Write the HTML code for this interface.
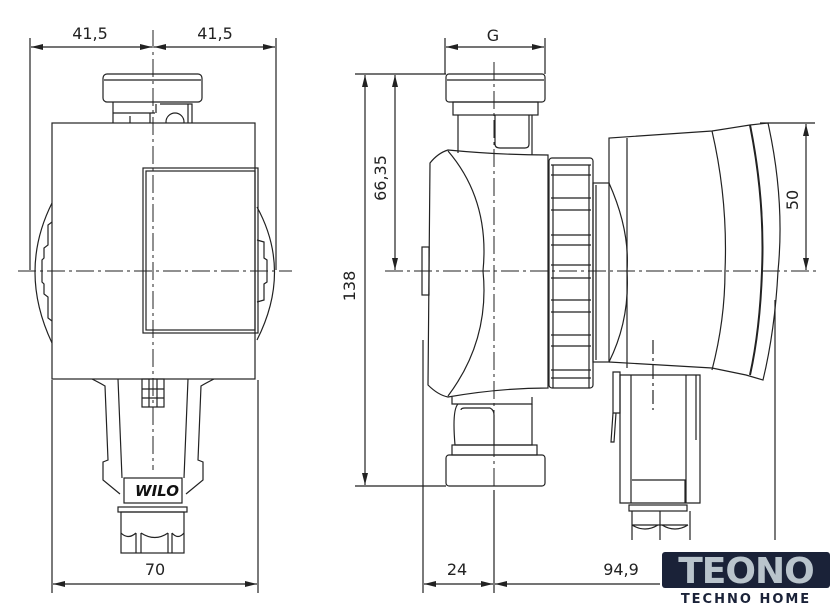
<!DOCTYPE html>
<html><head><style>
html,body{margin:0;padding:0;background:#fff;width:840px;height:615px;overflow:hidden}
svg{display:block}
text{font-family:"DejaVu Sans","Liberation Sans",sans-serif;font-size:16px;fill:#222}
</style></head><body>
<svg width="840" height="615" viewBox="0 0 840 615" xmlns="http://www.w3.org/2000/svg">
<defs>
<marker id="a" viewBox="0 0 12 6" refX="12" refY="3" markerWidth="12" markerHeight="6" orient="auto-start-reverse" markerUnits="userSpaceOnUse"><path d="M0,0L12,3L0,6z" fill="#222"/></marker>
</defs>
<g stroke="#222" stroke-width="1.2" fill="none">
<!-- LEFT VIEW -->
<!-- dims -->
<line x1="30" y1="38" x2="30" y2="270"/>
<line x1="276" y1="38" x2="276" y2="270"/>
<line x1="31" y1="47" x2="152" y2="47" marker-start="url(#a)" marker-end="url(#a)"/>
<line x1="154" y1="47" x2="275" y2="47" marker-start="url(#a)" marker-end="url(#a)"/>
<line x1="52" y1="380" x2="52" y2="593"/>
<line x1="258" y1="380" x2="258" y2="593"/>
<line x1="53" y1="584" x2="257" y2="584" marker-start="url(#a)" marker-end="url(#a)"/>
<!-- top cap -->
<rect x="103" y="74" width="99" height="28" rx="4"/>
<line x1="104" y1="80" x2="201" y2="80"/>
<path d="M113,102V113H155M156,113V104M160,104H192V123M113,113V123M116,113H150V123M130,116V123M188,104V123"/>
<circle cx="175" cy="122" r="9"/>
<!-- side arcs -->
<path d="M52,203Q18,271 52,343"/>
<path d="M257,207Q292,271 257,340"/>
<path d="M52,222L48,225L48,245L44,248L44,258L42,260L42,282L44,284L44,294L48,297L48,318L52,321"/>
<path d="M257,240L264,242L264,258L267,260L267,282L264,284L264,300L257,302"/>
<!-- body -->
<rect x="52" y="123" width="203" height="256" fill="#fff"/>
<rect x="143" y="168" width="115" height="165"/>
<rect x="146" y="171" width="109" height="159"/>
<!-- bottom -->
<path d="M92,379Q100,383 105,386L108,460L103,462V480L120,494"/>
<path d="M214,379Q206,383 201,386L198,460L203,462V480L186,494"/>
<path d="M118,379L122,478M188,379L184,478"/>
<rect x="142" y="379" width="22" height="28"/>
<path d="M142,389H164M142,398H164M149,379V407M157,379V407"/>
<rect x="124" y="478" width="58" height="25"/>
<rect x="118" y="507" width="69" height="5"/>
<rect x="121" y="512" width="63" height="41"/>
<path d="M136,533V553M141,533V553M168,533V553M172,533V553M121,533Q128,540 136,533M141,533Q155,542 168,533M172,533Q178,540 184,533"/>
</g>
<text x="157" y="496" text-anchor="middle" style="font-weight:bold;font-style:italic;font-size:15px;fill:#111">WILO</text>
<g stroke="#222" stroke-width="1" fill="none" stroke-dasharray="18,4,3,4">
<line x1="153" y1="30" x2="153" y2="470"/>
<line x1="18" y1="271" x2="292" y2="271"/>
</g>
<text x="90" y="39" text-anchor="middle">41,5</text>
<text x="215" y="39" text-anchor="middle">41,5</text>
<text x="155" y="575" text-anchor="middle">70</text>

<!-- RIGHT VIEW -->
<g stroke="#222" stroke-width="1.2" fill="none">
<line x1="445" y1="38" x2="445" y2="74"/>
<line x1="545" y1="38" x2="545" y2="74"/>
<line x1="446" y1="47" x2="544" y2="47" marker-start="url(#a)" marker-end="url(#a)"/>
<line x1="355" y1="74" x2="446" y2="74"/>
<line x1="355" y1="486" x2="446" y2="486"/>
<line x1="365" y1="75" x2="365" y2="485" marker-start="url(#a)" marker-end="url(#a)"/>
<line x1="395" y1="75" x2="395" y2="270" marker-start="url(#a)" marker-end="url(#a)"/>
<line x1="423" y1="340" x2="423" y2="593"/>
<line x1="494" y1="490" x2="494" y2="593"/>
<line x1="775" y1="300" x2="775" y2="540"/>
<line x1="424" y1="584" x2="493" y2="584" marker-start="url(#a)" marker-end="url(#a)"/>
<line x1="495" y1="584" x2="660" y2="584" marker-start="url(#a)"/>
<line x1="760" y1="123" x2="815" y2="123"/>
<line x1="806" y1="124" x2="806" y2="270" marker-start="url(#a)" marker-end="url(#a)"/>
<!-- top nut -->
<rect x="446" y="74" width="99" height="28" rx="3"/>
<line x1="447" y1="80" x2="544" y2="80"/>
<rect x="453" y="102" width="85" height="13"/>
<path d="M458,115V153M532,115V155M495,115V144Q495,148 500,148H525Q529,148 529,144V115"/>
<!-- body -->
<path d="M448,150Q438,153 430,163L428,385Q438,395 448,397Q500,388 548,388V155Q500,155 448,150Z"/>
<path d="M448,151Q490,200 483,271Q490,340 448,396"/>
<!-- ring -->
<rect x="549" y="158" width="44" height="230" rx="3"/>
<path d="M551,165H591M551,175H591M551,198H591M551,210H591M551,235H591M551,245H591M551,265H591M551,278H591M551,300H591M551,312H591M551,335H591M551,346H591M551,370H591M551,378H591"/>
<path d="M553,165V388M589,165V388"/>
<rect x="593" y="183" width="16" height="179"/>
<path d="M596,185V360"/>
<!-- motor -->
<path d="M609,183V138L712,131L750,125L768,123Q785,200 778,271Q775,330 763,380L746,375L712,368L609,362"/>
<path d="M609,183Q630,230 627,271Q630,320 609,362"/>
<path d="M627,138V368"/>
<path d="M712,131Q728,200 725,271Q725,320 712,370"/>
<path d="M750,125Q765,200 762,271Q760,330 750,375" stroke-width="2"/>
<line x1="653" y1="340" x2="653" y2="410" stroke-dasharray="14,4,3,4"/>
<!-- right connector -->
<path d="M613,372H620V413H613Z"/>
<path d="M613,413L611,442H614L616,413"/>
<path d="M620,375H700V503H620Z"/>
<path d="M631,375V503M686,375V503M696,375V440"/>
<path d="M632,480H685V503"/>
<rect x="629" y="505" width="58" height="6"/>
<path d="M632,511V540M690,511V540M632,525H688M660,511V540M632,525Q645,533 658,525M662,525Q675,533 688,525"/>
<!-- bottom nut -->
<path d="M452,397V404H532V397"/>
<path d="M458,404Q452,410 455,445H532V404"/>
<path d="M461,410Q461,408 465,408H490Q494,410 494,415V445"/>
<rect x="452" y="445" width="85" height="10"/>
<rect x="446" y="455" width="99" height="31" rx="3"/>
<rect x="422" y="247" width="7" height="48"/>
</g>
<g stroke="#222" stroke-width="1" fill="none" stroke-dasharray="18,4,3,4">
<line x1="494" y1="62" x2="494" y2="590"/>
<line x1="385" y1="271" x2="818" y2="271"/>
</g>
<text x="493" y="41" text-anchor="middle">G</text>
<text x="457" y="575" text-anchor="middle">24</text>
<text x="621" y="575" text-anchor="middle">94,9</text>
<text transform="translate(355,286) rotate(-90)" text-anchor="middle">138</text>
<text transform="translate(386,178) rotate(-90)" text-anchor="middle">66,35</text>
<text transform="translate(798,200) rotate(-90)" text-anchor="middle">50</text>
<!-- logo -->
<rect x="662" y="552" width="168" height="36" rx="3" fill="#1a2238"/>
<text x="746" y="583" text-anchor="middle" style="font-family:'DejaVu Sans',sans-serif;font-weight:bold;font-size:36px;fill:#b9c4cc;letter-spacing:-1px">TEONO</text>
<text x="746" y="603" text-anchor="middle" style="font-family:'DejaVu Sans',sans-serif;font-weight:bold;font-size:13px;fill:#1a2238;letter-spacing:2px">TECHNO HOME</text>
</svg>
</body></html>
